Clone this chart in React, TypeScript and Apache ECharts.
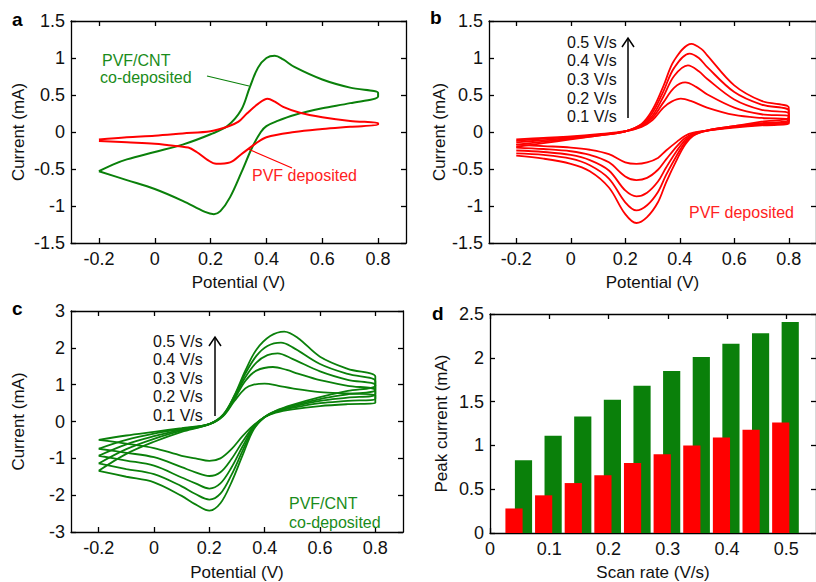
import React, { useEffect, useRef } from "react";
import * as echarts from "echarts";

// ---------- data ----------
const CV_X_TICKS = [-0.2, 0, 0.2, 0.4, 0.6, 0.8];
const RATE_X_TICKS = [0, 0.1, 0.2, 0.3, 0.4, 0.5];
const SCAN_RATE_LABELS = ["0.5 V/s", "0.4 V/s", "0.3 V/s", "0.2 V/s", "0.1 V/s"];

// Panel a: PVF/CNT co-deposited (green) and PVF deposited (red), [E (V), I (mA)]
const A_GREEN = [
  [-0.2, -0.53], [-0.15, -0.44], [-0.1, -0.37], [0, -0.27], [0.1, -0.17], [0.2, -0.03], [0.26, 0.08], [0.31, 0.3],
  [0.34, 0.6], [0.37, 0.87], [0.4, 1.0], [0.43, 1.03], [0.46, 0.98], [0.5, 0.88], [0.6, 0.71], [0.7, 0.6], [0.8, 0.53],
  [0.8, 0.48], [0.7, 0.39], [0.6, 0.32], [0.5, 0.23], [0.44, 0.15], [0.4, 0.08], [0.38, 0], [0.35, -0.2], [0.31, -0.55],
  [0.27, -0.88], [0.235, -1.07], [0.212, -1.11], [0.18, -1.08], [0.1, -0.93], [0, -0.77], [-0.1, -0.65], [-0.2, -0.53],
];
const A_RED = [
  [-0.2, -0.1], [-0.1, -0.07], [0, -0.05], [0.1, -0.02], [0.2, 0.01], [0.26, 0.07], [0.3, 0.14], [0.33, 0.25],
  [0.37, 0.38], [0.404, 0.45], [0.43, 0.41], [0.46, 0.34], [0.52, 0.26], [0.6, 0.2], [0.7, 0.15], [0.8, 0.12],
  [0.8, 0.1], [0.7, 0.07], [0.6, 0.04], [0.5, 0], [0.4, -0.07], [0.36, -0.16], [0.31, -0.3], [0.27, -0.41],
  [0.22, -0.43], [0.19, -0.38], [0.15, -0.27], [0.12, -0.21], [0.05, -0.18], [0, -0.16], [-0.1, -0.14], [-0.2, -0.12],
];

// Panel b: PVF deposited at 0.1 ... 0.5 V/s
const B_01 = [
  [-0.2, -0.1], [-0.1, -0.08], [0, -0.06], [0.1, -0.03], [0.2, 0.01], [0.26, 0.07], [0.3, 0.16], [0.34, 0.33], [0.37, 0.41],
  [0.404, 0.45], [0.44, 0.42], [0.5, 0.33], [0.6, 0.23], [0.7, 0.19], [0.8, 0.17],
  [0.8, 0.11], [0.7, 0.09], [0.6, 0.06], [0.5, 0.02], [0.45, -0.01], [0.42, -0.05], [0.39, -0.13], [0.35, -0.25], [0.32, -0.35],
  [0.28, -0.41], [0.241, -0.43], [0.2, -0.41], [0.14, -0.3], [0.07, -0.24], [0, -0.21], [-0.1, -0.19], [-0.2, -0.17],
];
const B_02 = [
  [-0.2, -0.12], [-0.1, -0.09], [0, -0.07], [0.1, -0.04], [0.2, 0.01], [0.26, 0.08], [0.3, 0.19], [0.34, 0.4], [0.38, 0.6],
  [0.42, 0.67], [0.46, 0.61], [0.5, 0.51], [0.6, 0.33], [0.7, 0.24], [0.8, 0.21],
  [0.8, 0.13], [0.7, 0.1], [0.6, 0.07], [0.5, 0.02], [0.45, -0.02], [0.42, -0.08], [0.39, -0.19], [0.35, -0.37], [0.32, -0.51],
  [0.28, -0.62], [0.241, -0.65], [0.2, -0.6], [0.14, -0.41], [0.07, -0.31], [0, -0.26], [-0.1, -0.23], [-0.2, -0.21],
];
const B_03 = [
  [-0.2, -0.14], [-0.1, -0.11], [0, -0.08], [0.1, -0.04], [0.2, 0.01], [0.26, 0.09], [0.3, 0.22], [0.34, 0.48], [0.38, 0.76],
  [0.43, 0.9], [0.47, 0.82], [0.5, 0.72], [0.6, 0.44], [0.7, 0.3], [0.8, 0.25],
  [0.8, 0.15], [0.7, 0.11], [0.6, 0.07], [0.5, 0.02], [0.45, -0.03], [0.42, -0.11], [0.39, -0.25], [0.35, -0.48], [0.32, -0.67],
  [0.28, -0.82], [0.241, -0.87], [0.2, -0.79], [0.14, -0.52], [0.07, -0.38], [0, -0.31], [-0.1, -0.27], [-0.2, -0.25],
];
const B_04 = [
  [-0.2, -0.17], [-0.1, -0.13], [0, -0.09], [0.1, -0.05], [0.2, 0.01], [0.26, 0.1], [0.3, 0.26], [0.34, 0.55], [0.38, 0.87],
  [0.436, 1.06], [0.47, 1.0], [0.5, 0.88], [0.6, 0.54], [0.7, 0.37], [0.8, 0.29],
  [0.8, 0.17], [0.7, 0.12], [0.6, 0.08], [0.5, 0.02], [0.45, -0.04], [0.42, -0.14], [0.39, -0.31], [0.35, -0.58], [0.32, -0.81],
  [0.28, -0.99], [0.241, -1.06], [0.2, -0.95], [0.14, -0.63], [0.07, -0.45], [0, -0.36], [-0.1, -0.31], [-0.2, -0.29],
];
const B_05 = [
  [-0.2, -0.2], [-0.1, -0.15], [0, -0.1], [0.1, -0.05], [0.2, 0.01], [0.26, 0.11], [0.3, 0.3], [0.34, 0.62], [0.38, 0.97],
  [0.443, 1.19], [0.48, 1.12], [0.5, 1.04], [0.6, 0.63], [0.7, 0.42], [0.8, 0.33],
  [0.8, 0.2], [0.7, 0.14], [0.6, 0.08], [0.5, 0.02], [0.45, -0.05], [0.42, -0.17], [0.39, -0.37], [0.35, -0.68], [0.32, -0.95],
  [0.28, -1.15], [0.241, -1.23], [0.2, -1.11], [0.14, -0.75], [0.07, -0.53], [0, -0.43], [-0.1, -0.36], [-0.2, -0.32],
];

// Panel c: PVF/CNT co-deposited at 0.1 ... 0.5 V/s
const C_01 = [
  [-0.2, -0.5], [-0.1, -0.38], [0, -0.28], [0.1, -0.18], [0.2, -0.07], [0.25, 0.15], [0.29, 0.55], [0.33, 0.9], [0.36, 1.0],
  [0.4, 1.03], [0.45, 0.97], [0.5, 0.9], [0.6, 0.8], [0.7, 0.76], [0.8, 0.72],
  [0.8, 0.5], [0.7, 0.47], [0.6, 0.42], [0.5, 0.33], [0.44, 0.24], [0.4, 0.12], [0.36, -0.1], [0.32, -0.4], [0.28, -0.75],
  [0.24, -1.0], [0.2, -1.07], [0.15, -1.0], [0.1, -0.93], [0, -0.72], [-0.1, -0.6], [-0.2, -0.5],
];
const C_02 = [
  [-0.2, -0.74], [-0.1, -0.5], [0, -0.33], [0.1, -0.2], [0.2, -0.07], [0.25, 0.16], [0.29, 0.6], [0.33, 1.1], [0.37, 1.38],
  [0.43, 1.48], [0.48, 1.4], [0.52, 1.3], [0.6, 1.12], [0.7, 0.97], [0.8, 0.85],
  [0.8, 0.62], [0.7, 0.56], [0.6, 0.5], [0.5, 0.37], [0.44, 0.26], [0.4, 0.12], [0.36, -0.13], [0.32, -0.55], [0.28, -1.02],
  [0.24, -1.38], [0.2, -1.48], [0.15, -1.38], [0.1, -1.24], [0, -0.97], [-0.1, -0.85], [-0.2, -0.74],
];
const C_03 = [
  [-0.2, -0.93], [-0.1, -0.62], [0, -0.4], [0.1, -0.22], [0.2, -0.07], [0.25, 0.17], [0.29, 0.65], [0.33, 1.2], [0.37, 1.6],
  [0.41, 1.8], [0.447, 1.85], [0.5, 1.7], [0.6, 1.36], [0.7, 1.13], [0.8, 0.98],
  [0.8, 0.74], [0.7, 0.65], [0.6, 0.56], [0.5, 0.4], [0.44, 0.27], [0.4, 0.12], [0.36, -0.16], [0.32, -0.68], [0.28, -1.25],
  [0.24, -1.68], [0.2, -1.82], [0.15, -1.68], [0.1, -1.52], [0, -1.2], [-0.1, -1.06], [-0.2, -0.93],
];
const C_04 = [
  [-0.2, -1.14], [-0.1, -0.75], [0, -0.47], [0.1, -0.25], [0.2, -0.07], [0.25, 0.18], [0.29, 0.68], [0.33, 1.3], [0.37, 1.78],
  [0.41, 2.05], [0.459, 2.14], [0.5, 2.02], [0.6, 1.56], [0.7, 1.29], [0.8, 1.1],
  [0.8, 0.86], [0.7, 0.74], [0.6, 0.61], [0.5, 0.43], [0.44, 0.28], [0.4, 0.12], [0.36, -0.19], [0.32, -0.8], [0.28, -1.45],
  [0.24, -1.96], [0.2, -2.12], [0.15, -1.97], [0.1, -1.76], [0, -1.43], [-0.1, -1.29], [-0.2, -1.14],
];
const C_05 = [
  [-0.2, -1.34], [-0.1, -0.88], [0, -0.55], [0.1, -0.28], [0.2, -0.07], [0.25, 0.19], [0.29, 0.7], [0.33, 1.38], [0.37, 1.95],
  [0.42, 2.32], [0.471, 2.44], [0.52, 2.27], [0.6, 1.76], [0.7, 1.43], [0.8, 1.22],
  [0.8, 0.98], [0.7, 0.83], [0.6, 0.66], [0.5, 0.45], [0.44, 0.29], [0.4, 0.12], [0.36, -0.22], [0.32, -0.92], [0.28, -1.65],
  [0.24, -2.22], [0.2, -2.42], [0.15, -2.25], [0.1, -2.02], [0, -1.65], [-0.1, -1.5], [-0.2, -1.34],
];

// Panel d: peak current vs scan rate
const SCAN_RATES = [0.05, 0.1, 0.15, 0.2, 0.25, 0.3, 0.35, 0.4, 0.45, 0.5];
const PEAK_CNT = [0.83, 1.11, 1.33, 1.52, 1.68, 1.85, 2.01, 2.16, 2.28, 2.41];
const PEAK_PVF = [0.28, 0.43, 0.57, 0.66, 0.8, 0.9, 1.0, 1.09, 1.18, 1.26];

// ---------- styling ----------
const GREEN = "#0a800a";
const RED = "#ff0000";
const TXT_GREEN = "#1a8c1a";
const TXT_RED = "#ff2222";
const FONT = "Liberation Sans, Arial, sans-serif";
const AX = "#000";

function axesFor(
  g: number,
  xr: [number, number],
  xTicks: number[],
  yr: [number, number],
  yInt: number,
  xName: string,
  yName: string,
  xGap: number,
  yGap: number
) {
  const line = { show: true, onZero: false, lineStyle: { color: AX, width: 1.3 } };
  const tick = { show: true, inside: true, length: 5, lineStyle: { color: AX, width: 1.3 } };
  const lab = { color: "#111", fontSize: 18, fontFamily: FONT };
  const xs = [
    {
      type: "value", gridIndex: g, position: "bottom", min: xr[0], max: xr[1],
      axisLine: line, splitLine: { show: false },
      axisTick: { ...tick, customValues: xTicks },
      axisLabel: { ...lab, margin: 7, customValues: xTicks },
      name: xName, nameLocation: "middle", nameGap: xGap,
      nameTextStyle: { color: "#111", fontSize: 17, fontFamily: FONT },
    },
    {
      type: "value", gridIndex: g, position: "top", min: xr[0], max: xr[1],
      axisLine: line, splitLine: { show: false },
      axisTick: { ...tick, customValues: xTicks },
      axisLabel: { show: false, customValues: xTicks },
    },
  ];
  const ys = [
    {
      type: "value", gridIndex: g, position: "left", min: yr[0], max: yr[1], interval: yInt,
      axisLine: line, splitLine: { show: false }, axisTick: tick,
      axisLabel: { ...lab, margin: 6 },
      name: yName, nameLocation: "middle", nameGap: yGap, nameRotate: 90,
      nameTextStyle: { color: "#111", fontSize: 17, fontFamily: FONT },
    },
    {
      type: "value", gridIndex: g, position: "right", min: yr[0], max: yr[1], interval: yInt,
      axisLine: line, splitLine: { show: false }, axisTick: tick,
      axisLabel: { show: false },
    },
  ];
  return { xs, ys };
}

function loop(data: number[][], color: string, g: number, width = 1.8) {
  return {
    type: "line",
    xAxisIndex: g * 2,
    yAxisIndex: g * 2,
    data,
    smooth: 0.35,
    showSymbol: false,
    symbol: "none",
    lineStyle: { color, width },
    z: 3,
  };
}

function barSeries(values: number[], color: string, off0: number, off1: number, z: number) {
  return {
    type: "custom",
    xAxisIndex: 6,
    yAxisIndex: 6,
    z,
    data: SCAN_RATES.map((r, i) => [r, values[i]]),
    renderItem: (params: any, api: any) => {
      const x = api.value(0);
      const y = api.value(1);
      const p0 = api.coord([x + off0, 0]);
      const p1 = api.coord([x + off1, y]);
      return {
        type: "rect",
        shape: { x: p0[0], y: p1[1], width: p1[0] - p0[0], height: p0[1] - p1[1] },
        style: { fill: color },
      };
    },
  };
}

function txt(text: string, x: number, y: number, fill: string, size = 16, bold = false) {
  return {
    type: "text",
    x,
    y,
    z: 10,
    style: {
      text,
      fill,
      font: `${bold ? "bold " : ""}${size}px ${FONT}`,
      verticalAlign: "middle",
      align: "left",
    },
  };
}

function arrow(x: number, y0: number, y1: number) {
  return [
    { type: "line", z: 10, shape: { x1: x, y1: y0, x2: x, y2: y1 + 1 }, style: { stroke: "#000", lineWidth: 1.5 } },
    {
      type: "polyline", z: 10,
      shape: { points: [[x - 6, y1 + 9], [x, y1], [x + 6, y1 + 9]] },
      style: { stroke: "#000", lineWidth: 1.5, fill: "none" },
    },
  ];
}

export default function App() {
  const ref = useRef<HTMLDivElement>(null);

  useEffect(() => {
    if (!ref.current) return;
    const chart = echarts.init(ref.current, undefined, { renderer: "svg" });

    const a = axesFor(0, [-0.3, 0.9], CV_X_TICKS, [-1.5, 1.5], 0.5, "Potential (V)", "Current (mA)", 31, 44);
    const b = axesFor(1, [-0.3, 0.9], CV_X_TICKS, [-1.5, 1.5], 0.5, "Potential (V)", "Current (mA)", 31, 40);
    const c = axesFor(2, [-0.3, 0.9], CV_X_TICKS, [-3, 3], 1, "Potential (V)", "Current (mA)", 32, 44);
    const d = axesFor(3, [0, 0.55], RATE_X_TICKS, [0, 2.5], 0.5, "Scan rate (V/s)", "Peak current (mA)", 31, 40);

    const option: any = {
      animation: false,
      backgroundColor: "#fff",
      textStyle: { fontFamily: FONT },
      grid: [
        { left: 71, top: 21, width: 335, height: 222 },
        { left: 489, top: 21, width: 331, height: 222 },
        { left: 71, top: 311, width: 332, height: 227 },
        { left: 490, top: 314, width: 335, height: 221 },
      ],
      xAxis: [...a.xs, ...b.xs, ...c.xs, ...d.xs],
      yAxis: [...a.ys, ...b.ys, ...c.ys, ...d.ys],
      series: [
        loop(A_GREEN, GREEN, 0, 2),
        loop(A_RED, RED, 0, 2),
        loop(B_01, RED, 1),
        loop(B_02, RED, 1),
        loop(B_03, RED, 1),
        loop(B_04, RED, 1),
        loop(B_05, RED, 1),
        loop(C_01, GREEN, 2),
        loop(C_02, GREEN, 2),
        loop(C_03, GREEN, 2),
        loop(C_04, GREEN, 2),
        loop(C_05, GREEN, 2),
        barSeries(PEAK_CNT, GREEN, -0.008, 0.021, 2),
        barSeries(PEAK_PVF, RED, -0.024, 0.005, 3),
      ],
      graphic: [
        txt("a", 12, 19, "#000", 19, true),
        txt("b", 430, 17, "#000", 19, true),
        txt("c", 12, 308, "#000", 19, true),
        txt("d", 432, 313, "#000", 19, true),
        // panel a annotations
        txt("PVF/CNT", 102, 60, TXT_GREEN),
        txt("co-deposited", 100, 77, TXT_GREEN),
        { type: "line", z: 10, shape: { x1: 207, y1: 76, x2: 249, y2: 86 }, style: { stroke: GREEN, lineWidth: 1.2 } },
        txt("PVF deposited", 252, 175, TXT_RED),
        { type: "line", z: 10, shape: { x1: 248, y1: 149, x2: 292, y2: 168 }, style: { stroke: RED, lineWidth: 1.2 } },
        // panel b annotations
        ...SCAN_RATE_LABELS.map((s, i) => txt(s, 567, 42 + i * 18.7, "#111")),
        ...arrow(628, 118, 38),
        txt("PVF deposited", 689, 212, TXT_RED),
        // panel c annotations
        ...SCAN_RATE_LABELS.map((s, i) => txt(s, 153, 341 + i * 18.5, "#111")),
        ...arrow(215, 416, 337),
        txt("PVF/CNT", 289, 503, TXT_GREEN),
        txt("co-deposited", 289, 522, TXT_GREEN),
      ],
    };

    chart.setOption(option);
    return () => chart.dispose();
  }, []);

  return (
    <div
      ref={ref}
      style={{ position: "absolute", left: 0, top: 0, width: 816, height: 582, background: "#fff" }}
    />
  );
}
